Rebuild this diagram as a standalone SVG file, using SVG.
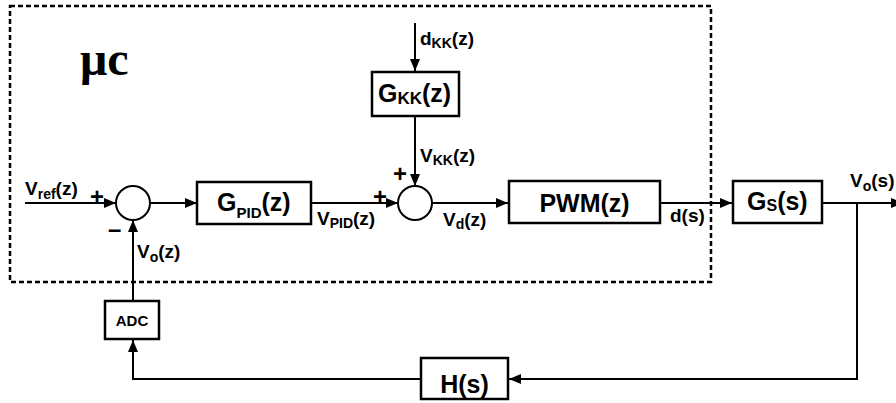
<svg xmlns="http://www.w3.org/2000/svg" width="896" height="403" viewBox="0 0 896 403">
<style>
.box{fill:#fff;stroke:#000;stroke-width:2.5}
.sum{fill:#fff;stroke:#000;stroke-width:2}
.ln{fill:none;stroke:#000;stroke-width:2}
.big{font-family:"Liberation Sans",Arial,sans-serif;font-weight:bold;font-size:25px;fill:#000}
.lbl{font-family:"Liberation Sans",Arial,sans-serif;font-weight:bold;font-size:19px;fill:#000}
.sub{font-size:14px}
.sign{font-family:"Liberation Sans",Arial,sans-serif;font-weight:bold;font-size:24px;fill:#000}
</style>
<defs>
<marker id="ah" markerUnits="userSpaceOnUse" markerWidth="13" markerHeight="11" refX="12" refY="5" orient="auto">
<path d="M0,0 L12,5 L0,10 z" fill="#000"/>
</marker>
</defs>
<rect id="mc-boundary" x="10" y="6" width="701" height="276" fill="none" stroke="#000" stroke-width="2.5" stroke-dasharray="5,3"/>
<text x="80" y="75" font-family="Liberation Serif,'Times New Roman',serif" font-weight="bold" font-size="48">μc</text>

<g id="connectors">
<line class="ln" x1="25" y1="203" x2="116" y2="203" marker-end="url(#ah)"/>
<line class="ln" x1="150" y1="203" x2="197" y2="203" marker-end="url(#ah)"/>
<line class="ln" x1="311" y1="203" x2="398" y2="203" marker-end="url(#ah)"/>
<line class="ln" x1="415" y1="23" x2="415" y2="71" marker-end="url(#ah)"/>
<line class="ln" x1="415" y1="117" x2="415" y2="186" marker-end="url(#ah)"/>
<line class="ln" x1="432" y1="203" x2="508" y2="203" marker-end="url(#ah)"/>
<line class="ln" x1="660" y1="203" x2="732" y2="203" marker-end="url(#ah)"/>
<line class="ln" x1="822" y1="203" x2="903" y2="203" marker-end="url(#ah)"/>
<polyline class="ln" points="857,203 857,379 509,379" marker-end="url(#ah)"/>
<polyline class="ln" points="421,379 133,379 133,340" marker-end="url(#ah)"/>
<line class="ln" x1="133" y1="301" x2="133" y2="220" marker-end="url(#ah)"/>
</g>

<g id="sum1">
<circle class="sum" cx="133" cy="203" r="17"/>
<text class="sign" x="90" y="205">+</text>
<text class="sign" x="108" y="237" font-weight="normal" font-size="20">–</text>
</g>
<g id="sum2">
<circle class="sum" cx="415" cy="203" r="17"/>
<text class="sign" x="373" y="205">+</text>
<text class="sign" x="393" y="182">+</text>
</g>

<g id="gpid">
<rect class="box" x="197" y="182" width="114" height="42"/>
<text class="big" x="217" y="211">G<tspan font-size="15" dy="7">PID</tspan><tspan dy="-7">(z)</tspan></text>
</g>
<g id="gkk">
<rect class="box" x="372" y="72" width="87" height="44"/>
<text class="big" x="378" y="102" font-size="26">G<tspan font-size="17" dy="2">KK</tspan><tspan dy="-2">(z)</tspan></text>
</g>
<g id="pwm">
<rect class="box" x="509" y="181" width="151" height="42"/>
<text class="big" x="584.5" y="212" text-anchor="middle" font-size="26">PWM(z)</text>
</g>
<g id="gs">
<rect class="box" x="733" y="181" width="89" height="42"/>
<text class="big" x="747" y="210" font-size="26">G<tspan font-size="16" dy="1">S</tspan><tspan dy="-1">(s)</tspan></text>
</g>
<g id="h">
<rect class="box" x="421" y="358" width="87" height="41"/>
<text class="big" x="464.5" y="393" text-anchor="middle" font-size="27">H(s)</text>
</g>
<g id="adc">
<rect class="box" x="105" y="301" width="54" height="38"/>
<text x="132" y="326" text-anchor="middle" font-family="Liberation Sans,Arial,sans-serif" font-weight="bold" font-size="15">ADC</text>
</g>

<g id="labels">
<text class="lbl" x="25" y="195">V<tspan class="sub" dy="4">ref</tspan><tspan dy="-4">(z)</tspan></text>
<text class="lbl" x="137" y="258">V<tspan class="sub" dy="4">o</tspan><tspan dy="-4">(z)</tspan></text>
<text class="lbl" x="317" y="225">V<tspan class="sub" dy="3">PID</tspan><tspan dy="-3">(z)</tspan></text>
<text class="lbl" x="420" y="162">V<tspan class="sub" dy="3">KK</tspan><tspan dy="-3">(z)</tspan></text>
<text class="lbl" x="420" y="45">d<tspan class="sub" dy="3">KK</tspan><tspan dy="-3">(z)</tspan></text>
<text class="lbl" x="443" y="226">V<tspan class="sub" dy="3">d</tspan><tspan dy="-3">(z)</tspan></text>
<text class="lbl" x="670" y="222">d(s)</text>
<text class="lbl" x="850" y="187" font-size="18">V<tspan class="sub" font-size="13" dy="4">o</tspan><tspan dy="-4">(s)</tspan></text>
</g>
</svg>
